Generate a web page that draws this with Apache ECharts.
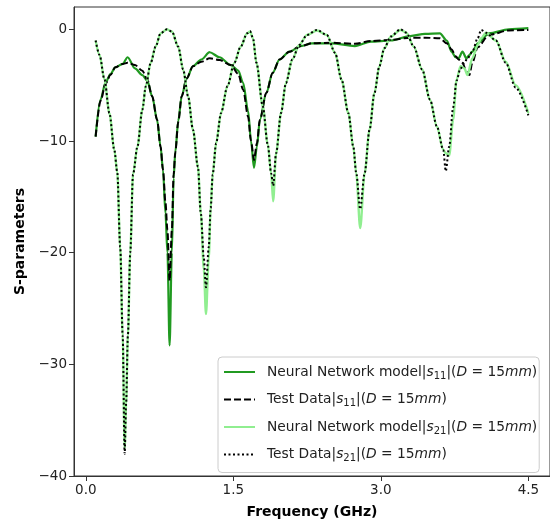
<!DOCTYPE html>
<html>
<head>
<meta charset="utf-8">
<script src="https://cdn.jsdelivr.net/npm/echarts@6/dist/echarts.min.js"></script>
<style>
html,body{margin:0;padding:0;background:#fff;}
#chart{width:550px;height:524px;}
</style>
</head>
<body>
<div id="chart"></div>
<script>
// ---------- data ----------
const s11Freq = [0.1, 0.15, 0.2, 0.25, 0.3, 0.375, 0.425, 0.5, 0.575, 0.625, 0.675, 0.725, 0.76, 0.785, 0.81, 0.83, 0.852, 0.875, 0.893, 0.91, 0.94, 0.975, 1.025, 1.09, 1.175, 1.26, 1.36, 1.475, 1.55, 1.6, 1.65, 1.68, 1.71, 1.74, 1.77, 1.835, 1.9, 1.97, 2.07, 2.185, 2.3, 2.5, 2.735, 2.9, 3.1, 3.3, 3.45, 3.6, 3.67, 3.72, 3.76, 3.79, 3.83, 3.87, 3.9, 3.93, 3.985, 4.1, 4.3, 4.5];
const s11NN   = [-9.6, -6.3, -4.8, -4.0, -3.4, -3.1, -2.5, -3.5, -4.1, -4.6, -6.0, -8.1, -10.5, -12.6, -16.5, -20.0, -28.3, -20.0, -13.3, -11.0, -8.2, -6.0, -4.4, -3.3, -2.7, -2.05, -2.5, -3.2, -3.7, -4.8, -7.3, -10.0, -12.4, -10.5, -8.1, -5.7, -3.9, -2.7, -2.0, -1.5, -1.25, -1.25, -1.5, -1.1, -1.0, -0.6, -0.4, -0.36, -1.0, -2.0, -2.5, -2.6, -2.0, -2.6, -2.3, -2.0, -1.25, -0.36, 0.0, 0.1];
const s11Test = [-9.6, -6.4, -4.9, -4.1, -3.4, -3.1, -3.0, -3.2, -3.7, -4.5, -6.0, -8.1, -10.5, -12.6, -15.5, -18.0, -22.5, -18.0, -13.0, -11.0, -8.3, -6.0, -4.4, -3.3, -2.9, -2.6, -2.75, -3.2, -4.0, -5.4, -7.8, -10.0, -11.7, -10.2, -8.1, -5.7, -3.9, -2.7, -2.0, -1.5, -1.25, -1.2, -1.3, -1.05, -0.95, -0.75, -0.75, -0.8, -1.25, -1.8, -2.4, -2.7, -3.0, -3.8, -4.1, -3.0, -1.6, -0.5, -0.1, -0.05];

const s21Freq = [0.1, 0.14, 0.19, 0.24, 0.29, 0.32, 0.35, 0.375, 0.395, 0.41, 0.428, 0.452, 0.48, 0.525, 0.575, 0.61, 0.66, 0.71, 0.76, 0.825, 0.875, 0.94, 0.99, 1.04, 1.09, 1.14, 1.17, 1.2, 1.222, 1.25, 1.27, 1.29, 1.325, 1.375, 1.44, 1.51, 1.575, 1.64, 1.67, 1.7, 1.735, 1.8, 1.85, 1.885, 1.905, 1.935, 1.985, 2.035, 2.1, 2.17, 2.25, 2.35, 2.45, 2.535, 2.6, 2.67, 2.72, 2.75, 2.79, 2.835, 2.885, 2.935, 2.985, 3.035, 3.1, 3.2, 3.26, 3.335, 3.42, 3.5, 3.57, 3.635, 3.66, 3.695, 3.735, 3.77, 3.81, 3.85, 3.88, 3.93, 3.985, 4.02, 4.07, 4.17, 4.27, 4.37, 4.5];
const s21NN   = [-1.0, -2.3, -4.5, -7.5, -10.8, -12.8, -19.5, -27.4, -37.5, -33.5, -27.4, -20.0, -13.0, -10.5, -7.2, -5.1, -3.0, -1.55, -0.36, 0.0, -0.2, -1.55, -3.6, -6.0, -9.0, -12.3, -16.5, -21.5, -25.5, -20.5, -16.0, -13.0, -10.2, -7.5, -5.1, -3.0, -1.55, -0.36, -0.2, -0.8, -3.0, -6.9, -10.3, -12.9, -15.4, -11.1, -7.5, -4.8, -2.7, -1.4, -0.5, -0.1, -0.5, -2.1, -4.5, -7.5, -10.5, -12.9, -17.8, -12.9, -9.0, -5.7, -3.3, -1.7, -0.65, -0.06, -0.3, -1.55, -3.6, -6.3, -8.7, -10.8, -11.1, -11.3, -8.1, -4.5, -3.3, -3.5, -4.1, -2.6, -1.4, -0.8, -0.3, -1.0, -2.9, -5.0, -7.5];
const s21Test = [-1.0, -2.3, -4.5, -7.5, -10.8, -12.8, -19.5, -27.4, -38.0, -33.5, -27.4, -20.0, -13.0, -10.5, -7.2, -5.1, -3.0, -1.55, -0.36, 0.0, -0.2, -1.55, -3.6, -6.0, -9.0, -12.3, -16.5, -20.5, -23.1, -19.5, -16.0, -13.0, -10.2, -7.5, -5.1, -3.0, -1.55, -0.36, -0.15, -0.8, -3.0, -6.9, -10.3, -12.9, -14.0, -11.1, -7.5, -4.8, -2.7, -1.4, -0.5, -0.05, -0.5, -2.1, -4.5, -7.5, -10.5, -12.9, -16.1, -12.9, -9.0, -5.7, -3.3, -1.7, -0.65, 0.0, -0.3, -1.55, -3.6, -6.3, -8.7, -10.8, -12.7, -10.5, -7.0, -4.6, -3.5, -3.0, -2.6, -2.0, -0.8, -0.05, -0.3, -1.0, -3.0, -5.2, -7.7];

const xTicks = [0, 1.5, 3.0, 4.5];
const yTicks = [-40, -30, -20, -10, 0];

const names = [
  'Neural Network model|s11|(D = 15mm)',
  'Test Data|s11|(D = 15mm)',
  'Neural Network model|s21|(D = 15mm)',
  'Test Data|s21|(D = 15mm)'
];

// ---------- chart ----------
const FONT = 'DejaVu Sans';
const pairs = (xs, ys) => xs.map((x, i) => [x, ys[i]]);

function legendRich(name) {
  const m = name.match(/^(.*)\|s(\d+)\|\(D = 15mm\)$/);
  return '{n|' + m[1] + '|}{i|s}{sub|' + m[2] + '}{n||(}{i|D}{n| = 15}{i|mm}{n|)}';
}

const chart = echarts.init(document.getElementById('chart'), null, {renderer: 'canvas'});
const axisColor = '#333';
const option = {
  animation: false,
  backgroundColor: '#fff',
  textStyle: {fontFamily: FONT},
  grid: {left: 74, top: 7, width: 484, height: 470, show: true, borderColor: axisColor, borderWidth: 1, backgroundColor: 'transparent'},
  xAxis: {
    type: 'value', min: -0.12, max: 4.72,
    name: 'Frequency (GHz)', nameLocation: 'middle', nameGap: 29,
    nameTextStyle: {fontFamily: FONT, fontWeight: 'bold', fontSize: 14, color: '#000'},
    axisLine: {show: true, onZero: false, lineStyle: {color: axisColor, width: 1}},
    axisTick: {show: true, customValues: xTicks, length: 5, lineStyle: {color: axisColor}},
    axisLabel: {customValues: xTicks, formatter: v => v.toFixed(1), fontFamily: FONT, fontSize: 13.5, color: '#222', margin: 7},
    splitLine: {show: false}
  },
  yAxis: {
    type: 'value', min: -40, max: 2,
    name: 'S-parameters', nameLocation: 'middle', nameGap: 47, nameRotate: 90,
    nameTextStyle: {fontFamily: FONT, fontWeight: 'bold', fontSize: 14, color: '#000'},
    axisLine: {show: true, onZero: false, lineStyle: {color: axisColor, width: 1}},
    axisTick: {show: true, customValues: yTicks, length: 5, lineStyle: {color: axisColor}},
    axisLabel: {customValues: yTicks, formatter: v => (v < 0 ? '\u2212' + Math.abs(v) : String(v)), fontFamily: FONT, fontSize: 13.5, color: '#222', margin: 7},
    splitLine: {show: false}
  },
  legend: {
    orient: 'vertical', left: 218, top: 357,
    padding: [8, 2, 9, 5], itemGap: 11.5, itemWidth: 31, itemHeight: 16,
    backgroundColor: 'rgba(255,255,255,0.85)', borderColor: '#cccccc', borderWidth: 1, borderRadius: 4,
    data: names,
    formatter: legendRich,
    itemStyle: {opacity: 0},
    textStyle: {
      fontFamily: FONT, fontSize: 13.8, color: '#222', padding: [0, 0, 0, 7],
      rich: {
        n: {fontFamily: FONT, fontSize: 13.8, color: '#222', lineHeight: 18},
        i: {fontFamily: FONT, fontSize: 13.8, fontStyle: 'italic', color: '#222', lineHeight: 18},
        sub: {fontFamily: FONT, fontSize: 10, color: '#222', lineHeight: 10, verticalAlign: 'bottom'}
      }
    }
  },
  series: [
    {name: names[0], type: 'line', data: pairs(s11Freq, s11NN), symbol: 'none', smooth: 0.3, smoothMonotone: 'x',
     lineStyle: {color: '#219a21', width: 2.2, type: 'solid'}, itemStyle: {color: '#219a21'}, z: 2},
    {name: names[1], type: 'line', data: pairs(s11Freq, s11Test), symbol: 'none', smooth: 0.3, smoothMonotone: 'x',
     lineStyle: {color: '#000', width: 2, type: [7, 3]}, itemStyle: {color: '#000'}, z: 3},
    {name: names[2], type: 'line', data: pairs(s21Freq, s21NN), symbol: 'none', smooth: 0.3, smoothMonotone: 'x',
     lineStyle: {color: '#90ee90', width: 2.4, type: 'solid'}, itemStyle: {color: '#90ee90'}, z: 4},
    {name: names[3], type: 'line', data: pairs(s21Freq, s21Test), symbol: 'none', smooth: 0.3, smoothMonotone: 'x',
     lineStyle: {color: '#000', width: 2, type: [2, 2.5]}, itemStyle: {color: '#000'}, z: 5}
  ]
};
chart.setOption(option);
</script>
</body>
</html>
